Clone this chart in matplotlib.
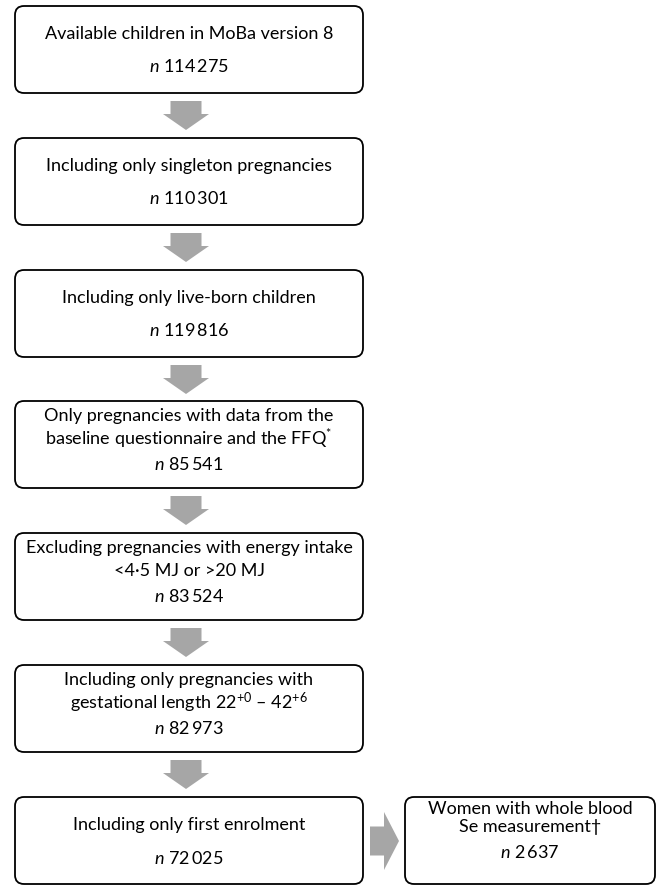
import matplotlib
matplotlib.use("Agg")
import matplotlib.pyplot as plt
from matplotlib.patches import FancyBboxPatch, FancyArrow

plt.rcParams['font.family'] = ['Lato', 'DejaVu Sans']
plt.rcParams['mathtext.fontset'] = 'custom'
plt.rcParams['mathtext.rm'] = 'Lato'
plt.rcParams['mathtext.it'] = 'Lato:italic'

# flow steps: text lines and counts
steps = [
    ["Available children in MoBa version 8"],
    ["Including only singleton pregnancies"],
    ["Including only live-born children"],
    ["Only pregnancies with data from the", r"baseline questionnaire and the FFQ$^{*}$"],
    ["Excluding pregnancies with energy intake", "<4\u00b75 MJ or >20 MJ"],
    ["Including only pregnancies with", "gestational length 22$^{+0}$ \u2013 42$^{+6}$"],
    ["Including only first enrolment"],
]
counts = ["114\u2009275", "110\u2009301", "119\u2009816", "85\u2009541", "83\u2009524", "82\u2009973", "72\u2009025"]
side_lines = ["Women with whole blood", "Se measurement\u2020"]
side_count = "2\u2009637"

fig = plt.figure(figsize=(6.57, 8.85), dpi=100)
ax = fig.add_axes([0, 0, 1, 1])
ax.set_xlim(0, 657)
ax.set_ylim(885, 0)
ax.axis('off')

tops = [6, 138, 270, 401, 533, 665, 797]
bh = 87
x0, x1 = 15, 363
fs = 13

def box(xa, xb, ya, yb):
    p = FancyBboxPatch((xa, ya), xb - xa, yb - ya,
                       boxstyle="round,pad=0,rounding_size=9",
                       fc='white', ec='black', lw=1.3)
    ax.add_patch(p)

def write(xc, ya, yb, lines, n):
    k = len(lines) + 1
    if k == 2:
        ys = [ya + 28, ya + 61]
    else:
        ys = [ya + 15, ya + 38, ya + 63]
    for y, t in zip(ys, lines):
        ax.text(xc, y, t, ha='center', va='center', fontsize=fs)
    ax.text(xc, ys[-1], r"$\mathit{n}$ " + n, ha='center', va='center', fontsize=fs)

xc = (x0 + x1) / 2
for i, (lines, n) in enumerate(zip(steps, counts)):
    ya = tops[i]
    box(x0, x1, ya, ya + bh)
    write(xc, ya, ya + bh, lines, n)
    if i < len(steps) - 1:
        a0 = ya + bh + 8
        ax.add_patch(FancyArrow(186, a0, 0, 29, width=31, head_width=46,
                                head_length=16, length_includes_head=True,
                                fc='#a6a6a6', ec='none'))

# side box
sa, sb = 405, 655
box(sa, sb, 797, 884)
sc = (sa + sb) / 2
ax.text(sc, 809, side_lines[0], ha='center', va='center', fontsize=fs)
ax.text(sc, 827, side_lines[1], ha='center', va='center', fontsize=fs)
ax.text(sc, 852, r"$\mathit{n}$ " + side_count, ha='center', va='center', fontsize=fs)

ax.add_patch(FancyArrow(370, 841, 29, 0, width=29, head_width=58,
                        head_length=15, length_includes_head=True,
                        fc='#a6a6a6', ec='none'))

fig.savefig('out.png', dpi=100)
